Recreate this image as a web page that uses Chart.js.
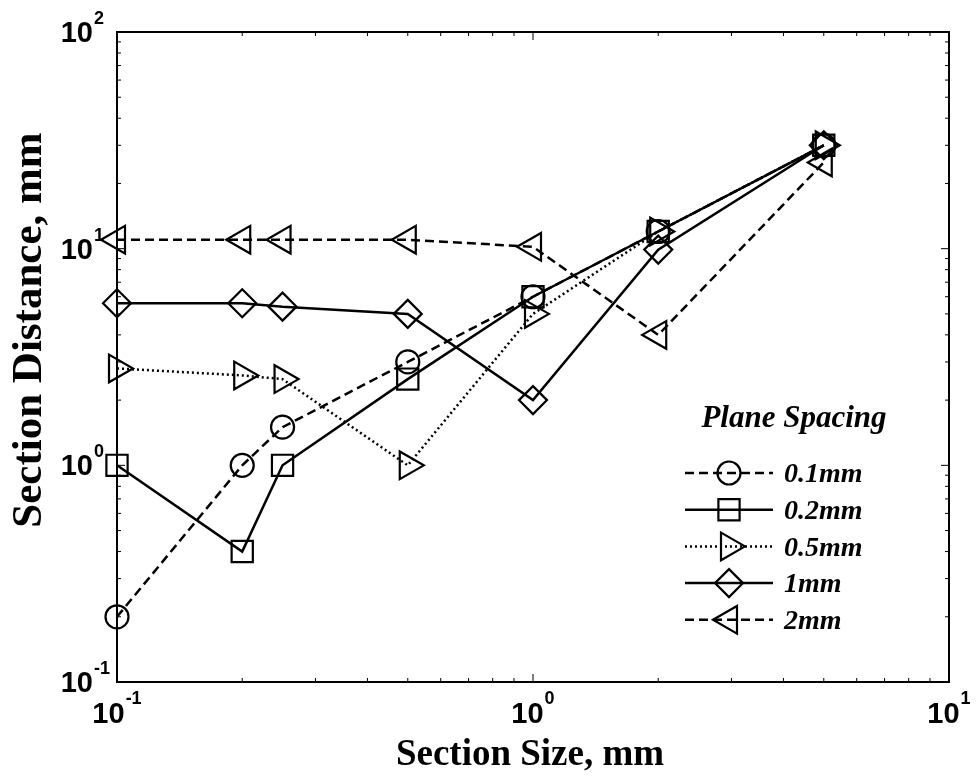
<!DOCTYPE html>
<html>
<head>
<meta charset="utf-8">
<script src="https://cdn.jsdelivr.net/npm/chart.js@4"></script>
<style>
  body { margin: 0; background: #fff; }
  canvas { display: block; }
</style>
</head>
<body>
<canvas id="myChart" width="980" height="782"></canvas>
<script>
// section size (x) and section distance (y) for each plane spacing
var sectionSize = [0.1, 0.2, 0.25, 0.5, 1, 2, 5];
var spacing01 = [0.2, 1.0, 1.5, 3.0, 6.0, 12, 30];
var spacing02 = [1.0, 0.4, 1.0, 2.5, 6.0, 12, 30];
var spacing05 = [2.8, 2.6, 2.5, 1.0, 5.0, 12, 30];
var spacing1 = [5.6, 5.6, 5.4, 5.0, 2.0, 9.9, 30];
var spacing2 = [11, 11, 11, 11, 10.2, 4.0, 25];
var seriesNames = ['0.1mm', '0.2mm', '0.5mm', '1mm', '2mm'];
var xTicks = [0.1, 1, 10];
var yTicks = [0.1, 1, 10, 100];

function toPoints(ys) {
    return sectionSize.map(function (x, i) { return { x: x, y: ys[i] }; });
}

function series(name, ys, style, rotation, radius, dash) {
    return {
        label: name,
        data: toPoints(ys),
        borderColor: '#000',
        borderWidth: 2.5,
        borderDash: dash,
        backgroundColor: 'rgba(0,0,0,0)',
        pointStyle: style,
        pointRotation: rotation,
        pointRadius: radius,
        pointBorderWidth: 2.2,
        pointBorderColor: '#000',
        pointBackgroundColor: 'rgba(0,0,0,0)',
        tension: 0,
        clip: false
    };
}

var sansFont = '"Liberation Sans", Arial, sans-serif';
var serifFont = '"Liberation Serif", "Times New Roman", serif';

var matlabAxes = {
    id: 'matlabAxes',
    afterDatasetsDraw: function (chart) {
        var ctx = chart.ctx;
        var a = chart.chartArea;
        var xs = chart.scales.x, ys = chart.scales.y;
        ctx.save();
        ctx.strokeStyle = '#000';
        ctx.fillStyle = '#000';
        ctx.setLineDash([]);

        // box
        ctx.lineWidth = 2;
        ctx.strokeRect(a.left, a.top, a.right - a.left, a.bottom - a.top);

        // inward ticks, all four sides
        ctx.lineWidth = 1;
        ctx.beginPath();
        for (var e = -1; e < 1; e++) {
            for (var k = 1; k <= 9; k++) {
                var v = k * Math.pow(10, e);
                var len = k === 1 ? 8 : 4;
                var px = xs.getPixelForValue(v);
                ctx.moveTo(px, a.bottom); ctx.lineTo(px, a.bottom - len);
                ctx.moveTo(px, a.top); ctx.lineTo(px, a.top + len);
            }
        }
        for (var e2 = -1; e2 < 2; e2++) {
            for (var k2 = 1; k2 <= 9; k2++) {
                var v2 = k2 * Math.pow(10, e2);
                var len2 = k2 === 1 ? 8 : 4;
                var py = ys.getPixelForValue(v2);
                ctx.moveTo(a.left, py); ctx.lineTo(a.left + len2, py);
                ctx.moveTo(a.right, py); ctx.lineTo(a.right - len2, py);
            }
        }
        ctx.stroke();

        // tick labels 10^n
        var baseFont = 'bold 29px ' + sansFont;
        var expFont = 'bold 18px ' + sansFont;
        ctx.textBaseline = 'middle';
        xTicks.forEach(function (t) {
            var exp = String(Math.round(Math.log10(t)));
            ctx.font = baseFont;
            var bw = ctx.measureText('10').width;
            ctx.font = expFont;
            var ew = ctx.measureText(exp).width;
            var x0 = xs.getPixelForValue(t) - (bw + 1 + ew) / 2;
            ctx.textAlign = 'left';
            ctx.font = baseFont;
            ctx.fillText('10', x0, a.bottom + 33);
            ctx.font = expFont;
            ctx.fillText(exp, x0 + bw + 1, a.bottom + 17);
        });
        yTicks.forEach(function (t) {
            var exp = String(Math.round(Math.log10(t)));
            var py = ys.getPixelForValue(t);
            ctx.font = baseFont;
            ctx.textAlign = 'right';
            ctx.fillText('10', a.left - 24, py + 2);
            ctx.font = expFont;
            ctx.textAlign = 'left';
            ctx.fillText(exp, a.left - 23, py - 13);
        });

        // axis titles
        ctx.textAlign = 'center';
        ctx.textBaseline = 'alphabetic';
        ctx.font = 'bold 37px ' + serifFont;
        ctx.fillText('Section Size, mm', 530, 765);
        ctx.save();
        ctx.translate(41, 330);
        ctx.rotate(-Math.PI / 2);
        ctx.font = 'bold 43px ' + serifFont;
        ctx.fillText('Section Distance, mm', 0, 0);
        ctx.restore();

        // legend
        ctx.font = 'italic bold 31px ' + serifFont;
        ctx.fillText('Plane Spacing', 794, 427);
        ctx.textAlign = 'left';
        ctx.textBaseline = 'middle';
        ctx.font = 'italic bold 28px ' + serifFont;
        chart.data.datasets.forEach(function (ds, i) {
            var ry = 473 + i * 36.7;
            ctx.lineWidth = ds.borderWidth;
            ctx.setLineDash(ds.borderDash || []);
            ctx.beginPath();
            ctx.moveTo(685, ry);
            ctx.lineTo(773, ry);
            ctx.stroke();
            ctx.setLineDash([]);
            ctx.lineWidth = ds.pointBorderWidth;
            ctx.fillStyle = 'rgba(0,0,0,0)';
            Chart.helpers.drawPoint(ctx, {
                pointStyle: ds.pointStyle,
                rotation: ds.pointRotation,
                radius: ds.pointRadius,
                borderWidth: ds.pointBorderWidth
            }, 729, ry);
            ctx.fillStyle = '#000';
            ctx.fillText(ds.label, 784, ry + 2);
        });
        ctx.restore();
    }
};

var ctx = document.getElementById('myChart').getContext('2d');
var myChart = new Chart(ctx, {
    type: 'line',
    data: {
        datasets: [
            series(seriesNames[0], spacing01, 'circle', 0, 11.5, [9, 5]),
            series(seriesNames[1], spacing02, 'rect', 0, 15, []),
            series(seriesNames[2], spacing05, 'triangle', 90, 16, [2, 3]),
            series(seriesNames[3], spacing1, 'rectRot', 0, 14, []),
            series(seriesNames[4], spacing2, 'triangle', 270, 16, [9, 5])
        ]
    },
    options: {
        responsive: false,
        animation: false,
        layout: {
            padding: { left: 117, top: 32, right: 31, bottom: 100 }
        },
        plugins: {
            legend: { display: false },
            tooltip: { enabled: false }
        },
        scales: {
            x: { type: 'logarithmic', min: 0.1, max: 10, display: false },
            y: { type: 'logarithmic', min: 0.1, max: 100, display: false }
        }
    },
    plugins: [matlabAxes]
});
</script>
</body>
</html>
